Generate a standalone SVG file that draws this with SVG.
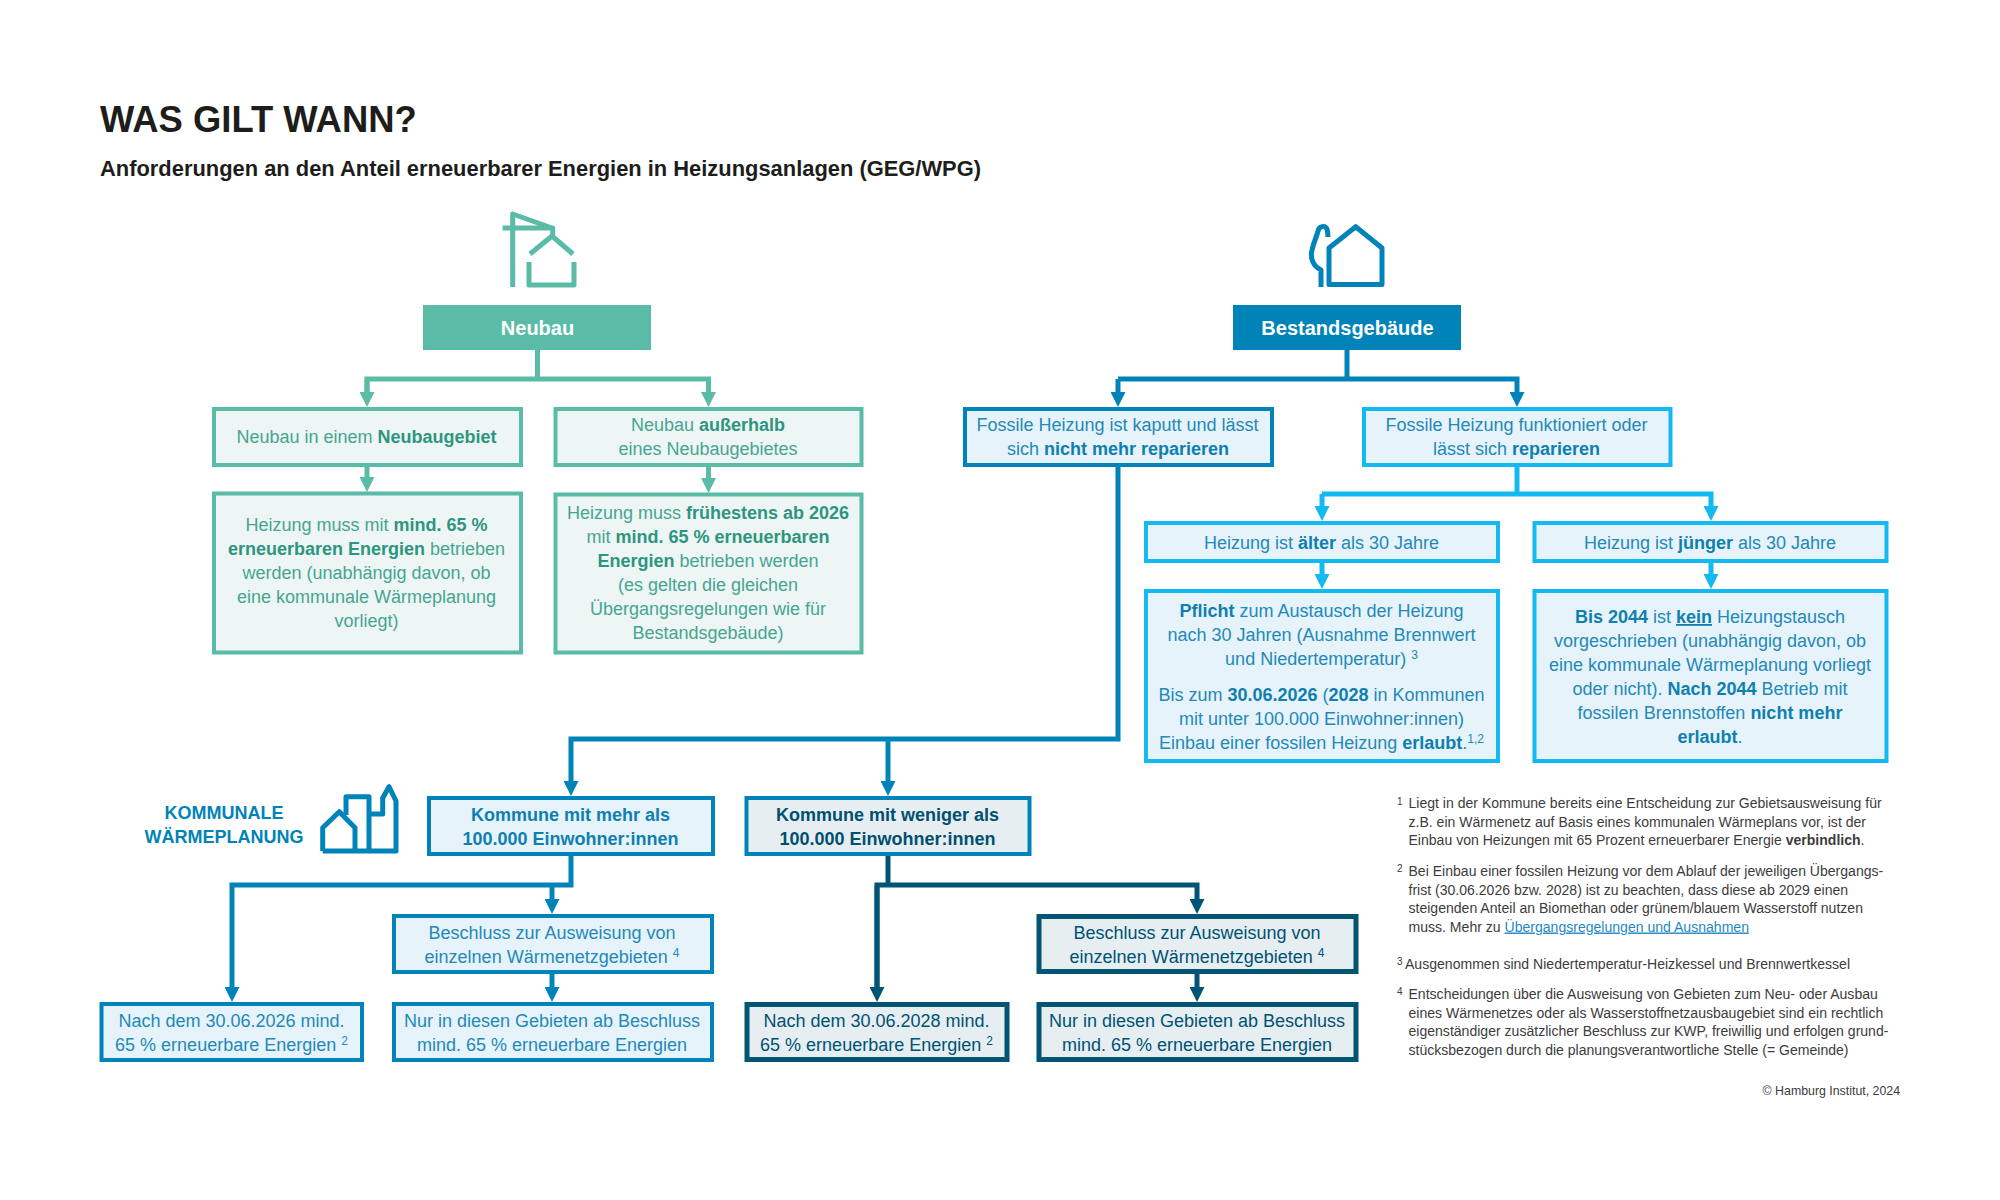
<svg xmlns="http://www.w3.org/2000/svg" width="2000" height="1200" viewBox="0 0 2000 1200">
<style>
text{font-family:"Liberation Sans",Arial,sans-serif}
.t{font-size:18px;text-anchor:middle}
.g{fill:#46a592}.gb{fill:#2e9580;font-weight:700}
.c{fill:#2389b9}.cb{fill:#0f7fb0;font-weight:700}
.d{fill:#005274}.db{fill:#004f70;font-weight:700}
.sup{font-size:12px}
.h{font-size:20px;font-weight:700;fill:#fff;text-anchor:middle}
.fn{font-size:14.05px;fill:#3c3c3c}
.fs{font-size:10px;fill:#3c3c3c}
.bg{fill:#edf6f4;stroke:#5abba7;stroke-width:4}
.bc{fill:#e6f3fa;stroke:#13b9f1;stroke-width:4}
.bb{fill:#e6f3fa;stroke:#0083b8;stroke-width:4}
.bd{fill:#e6eef2;stroke:#005474;stroke-width:5}
.bm{fill:#e6eef2;stroke:#0083b8;stroke-width:4}
.l{fill:none;stroke-width:5}
.ic{fill:none;stroke-width:5;stroke-linejoin:round}
</style>
<defs>
<marker id="ag" markerUnits="userSpaceOnUse" markerWidth="16" markerHeight="15" refX="0" refY="7.5" orient="auto"><path d="M0 0L15 7.5L0 15Z" fill="#5abba7"/></marker>
<marker id="ac" markerUnits="userSpaceOnUse" markerWidth="16" markerHeight="15" refX="0" refY="7.5" orient="auto"><path d="M0 0L15 7.5L0 15Z" fill="#13b9f1"/></marker>
<marker id="ab" markerUnits="userSpaceOnUse" markerWidth="16" markerHeight="15" refX="0" refY="7.5" orient="auto"><path d="M0 0L15 7.5L0 15Z" fill="#0083b8"/></marker>
<marker id="ad" markerUnits="userSpaceOnUse" markerWidth="16" markerHeight="15" refX="0" refY="7.5" orient="auto"><path d="M0 0L15 7.5L0 15Z" fill="#005474"/></marker>
</defs>
<rect width="2000" height="1200" fill="#fff"/>
<g id="title">
<text x="100" y="132" font-size="36.4" font-weight="700" fill="#1d1d1b">WAS GILT WANN?</text>
<text x="100" y="176" font-size="21.9" font-weight="700" fill="#1d1d1b">Anforderungen an den Anteil erneuerbarer Energien in Heizungsanlagen (GEG/WPG)</text>
</g>
<g id="connectors">
<g stroke="#5abba7" class="l">
<path d="M537.500 350V379M367 392V379H708.500V392" marker-end="url(#ag)"/>
<path d="M367 379V392" marker-end="url(#ag)"/>
<path d="M367 467V477" marker-end="url(#ag)"/>
<path d="M708.500 467V478" marker-end="url(#ag)"/>
</g>
<g stroke="#0083b8" class="l">
<path d="M1347 350V379M1118 379H1517V392" marker-end="url(#ab)"/>
<path d="M1118 379V392" marker-end="url(#ab)"/>
<path d="M1118 466V739H571V781" marker-end="url(#ab)"/>
<path d="M888 739V781" marker-end="url(#ab)"/>
<path d="M571 856V885H232V987" marker-end="url(#ab)"/>
<path d="M552 885V899" marker-end="url(#ab)"/>
<path d="M552 974V987" marker-end="url(#ab)"/>
</g>
<g stroke="#13b9f1" class="l">
<path d="M1517 466V494M1322 494H1711V506" marker-end="url(#ac)"/>
<path d="M1322 494V506" marker-end="url(#ac)"/>
<path d="M1322 563V574" marker-end="url(#ac)"/>
<path d="M1711 563V574" marker-end="url(#ac)"/>
</g>
<g stroke="#005474" class="l">
<path d="M888 856V885M877 987V885H1197V899" marker-end="url(#ad)"/>
<path d="M877 885V987" marker-end="url(#ad)"/>
<path d="M1197 974V987" marker-end="url(#ad)"/>
</g>
</g>
<g id="icon-neubau" class="ic" stroke="#5abba7">
<path d="M512.700 287V214L552 228M502.500 228H552.700V236M530 254L552 236L573 254M529 262V285H574V262"/>
</g>
<g id="icon-bestand" class="ic" stroke="#0083b8">
<path d="M1329 284.500V248L1355.700 226.700L1382 248V284.500ZM1321 287V270C1313 266 1310 258 1312 250C1314 241 1317 236 1318 231C1319 226 1325 225 1327 229Q1328 233 1328 237"/>
</g>
<g id="icon-kommunal" class="ic" stroke="#0083b8">
<path d="M322.700 851H396V801L389 786.700L382.700 798V814H369V796.700H346V815M322.700 851V827.700L339.300 811.700L355 827.700V851M369 796.700V851"/>
</g>
<g id="label-kommunal" fill="#0083b8" font-weight="700" font-size="18" text-anchor="middle">
<text x="224" y="819">KOMMUNALE</text>
<text x="224" y="842.500">WÄRMEPLANUNG</text>
</g>
<g id="neubau"><rect x="423" y="305" width="228" height="45" fill="#5abba7"/><text class="h" x="537.500" y="335">Neubau</text></g>
<g id="bestand"><rect x="1233" y="305" width="228" height="45" fill="#0083b8"/><text class="h" x="1347.500" y="335">Bestandsgebäude</text></g>
<g id="n1"><rect class="bg" x="214" y="409" width="307" height="56"/><text class="t g" x="366.500" y="443">Neubau in einem <tspan class="gb">Neubaugebiet</tspan></text></g>
<g id="n2"><rect class="bg" x="555.500" y="409" width="306" height="56"/><text class="t g" x="708" y="431">Neubau <tspan class="gb">außerhalb</tspan></text><text class="t g" x="708" y="455">eines Neubaugebietes</text></g>
<g id="n3"><rect class="bg" x="214" y="493.500" width="307" height="159"/>
<text class="t g" x="366.500" y="531">Heizung muss mit <tspan class="gb">mind. 65 %</tspan></text>
<text class="t g" x="366.500" y="555"><tspan class="gb">erneuerbaren Energien</tspan> betrieben</text>
<text class="t g" x="366.500" y="579">werden (unabhängig davon, ob</text>
<text class="t g" x="366.500" y="603">eine kommunale Wärmeplanung</text>
<text class="t g" x="366.500" y="627">vorliegt)</text></g>
<g id="n4"><rect class="bg" x="555.500" y="494.500" width="306" height="158"/>
<text class="t g" x="708" y="519">Heizung muss <tspan class="gb">frühestens ab 2026</tspan></text>
<text class="t g" x="708" y="543">mit <tspan class="gb">mind. 65 % erneuerbaren</tspan></text>
<text class="t g" x="708" y="567"><tspan class="gb">Energien</tspan> betrieben werden</text>
<text class="t g" x="708" y="591">(es gelten die gleichen</text>
<text class="t g" x="708" y="615">Übergangsregelungen wie für</text>
<text class="t g" x="708" y="639">Bestandsgebäude)</text></g>
<g id="b1"><rect class="bb" x="965" y="409" width="307" height="56"/><text class="t c" x="1117.500" y="431">Fossile Heizung ist kaputt und lässt</text><text class="t c" x="1118" y="455">sich <tspan class="cb">nicht mehr reparieren</tspan></text></g>
<g id="b2"><rect class="bc" x="1364" y="409" width="306.500" height="56"/><text class="t c" x="1516.500" y="431">Fossile Heizung funktioniert oder</text><text class="t c" x="1516.500" y="455">lässt sich <tspan class="cb">reparieren</tspan></text></g>
<g id="b3"><rect class="bc" x="1146" y="523" width="352" height="38"/><text class="t c" x="1321.500" y="549">Heizung ist <tspan class="cb">älter</tspan> als 30 Jahre</text></g>
<g id="b4"><rect class="bc" x="1534.500" y="523" width="352" height="38"/><text class="t c" x="1710" y="549">Heizung ist <tspan class="cb">jünger</tspan> als 30 Jahre</text></g>
<g id="b5"><rect class="bc" x="1146" y="591" width="352" height="170"/>
<text class="t c" x="1321.500" y="617"><tspan class="cb">Pflicht</tspan> zum Austausch der Heizung</text>
<text class="t c" x="1321.500" y="641">nach 30 Jahren (Ausnahme Brennwert</text>
<text class="t c" x="1321.500" y="665">und Niedertemperatur) <tspan class="sup" dy="-6">3</tspan></text>
<text class="t c" x="1321.500" y="701">Bis zum <tspan class="cb">30.06.2026</tspan> (<tspan class="cb">2028</tspan> in Kommunen</text>
<text class="t c" x="1321.500" y="725">mit unter 100.000 Einwohner:innen)</text>
<text class="t c" x="1321.500" y="749">Einbau einer fossilen Heizung <tspan class="cb">erlaubt</tspan>.<tspan class="sup" dy="-6">1,2</tspan></text></g>
<g id="b6"><rect class="bc" x="1534.500" y="591" width="352" height="170"/>
<text class="t c" x="1710" y="623"><tspan class="cb">Bis 2044</tspan> ist <tspan class="cb" text-decoration="underline">kein</tspan> Heizungstausch</text>
<text class="t c" x="1710" y="647">vorgeschrieben (unabhängig davon, ob</text>
<text class="t c" x="1710" y="671">eine kommunale Wärmeplanung vorliegt</text>
<text class="t c" x="1710" y="695">oder nicht). <tspan class="cb">Nach 2044</tspan> Betrieb mit</text>
<text class="t c" x="1710" y="719">fossilen Brennstoffen <tspan class="cb">nicht mehr</tspan></text>
<text class="t c" x="1710" y="743"><tspan class="cb">erlaubt</tspan>.</text></g>
<g id="k1"><rect class="bb" x="429" y="798" width="284" height="56"/><text class="t cb" x="570.500" y="821">Kommune mit mehr als</text><text class="t cb" x="570.500" y="845">100.000 Einwohner:innen</text></g>
<g id="k2"><rect class="bm" x="746.500" y="798" width="283" height="56"/><text class="t db" x="887.500" y="821">Kommune mit weniger als</text><text class="t db" x="887.500" y="845">100.000 Einwohner:innen</text></g>
<g id="k1a"><rect class="bb" x="394" y="916" width="318" height="56"/><text class="t c" x="552" y="939">Beschluss zur Ausweisung von</text><text class="t c" x="552" y="963">einzelnen Wärmenetzgebieten <tspan class="sup" dy="-6">4</tspan></text></g>
<g id="k1b"><rect class="bb" x="101.500" y="1004" width="260.500" height="56"/><text class="t c" x="231.500" y="1027">Nach dem 30.06.2026 mind.</text><text class="t c" x="231.500" y="1051">65 % erneuerbare Energien <tspan class="sup" dy="-6">2</tspan></text></g>
<g id="k1c"><rect class="bb" x="394" y="1004" width="318" height="56"/><text class="t c" x="552" y="1027">Nur in diesen Gebieten ab Beschluss</text><text class="t c" x="552" y="1051">mind. 65 % erneuerbare Energien</text></g>
<g id="k2a"><rect class="bd" x="1039" y="916.500" width="317" height="55"/><text class="t d" x="1197" y="939">Beschluss zur Ausweisung von</text><text class="t d" x="1197" y="963">einzelnen Wärmenetzgebieten <tspan class="sup" dy="-6">4</tspan></text></g>
<g id="k2b"><rect class="bd" x="747" y="1004.500" width="260" height="55"/><text class="t d" x="876.500" y="1027">Nach dem 30.06.2028 mind.</text><text class="t d" x="876.500" y="1051">65 % erneuerbare Energien <tspan class="sup" dy="-6">2</tspan></text></g>
<g id="k2c"><rect class="bd" x="1039" y="1004.500" width="317" height="55"/><text class="t d" x="1197" y="1027">Nur in diesen Gebieten ab Beschluss</text><text class="t d" x="1197" y="1051">mind. 65 % erneuerbare Energien</text></g>
<g id="footnotes">
<text class="fs" x="1397" y="805">1</text>
<text class="fn" x="1408.500" y="808">Liegt in der Kommune bereits eine Entscheidung zur Gebietsausweisung für</text>
<text class="fn" x="1408.500" y="826.500">z.B. ein Wärmenetz auf Basis eines kommunalen Wärmeplans vor, ist der</text>
<text class="fn" x="1408.500" y="845">Einbau von Heizungen mit 65 Prozent erneuerbarer Energie <tspan font-weight="700">verbindlich</tspan>.</text>
<text class="fs" x="1397" y="872">2</text>
<text class="fn" x="1408.500" y="876">Bei Einbau einer fossilen Heizung vor dem Ablauf der jeweiligen Übergangs-</text>
<text class="fn" x="1408.500" y="895">frist (30.06.2026 bzw. 2028) ist zu beachten, dass diese ab 2029 einen</text>
<text class="fn" x="1408.500" y="913">steigenden Anteil an Biomethan oder grünem/blauem Wasserstoff nutzen</text>
<text class="fn" x="1408.500" y="931.500">muss. Mehr zu <tspan fill="#1f87c4" text-decoration="underline">Übergangsregelungen und Ausnahmen</tspan></text>
<text class="fs" x="1397" y="965">3</text>
<text class="fn" x="1405" y="969">Ausgenommen sind Niedertemperatur-Heizkessel und Brennwertkessel</text>
<text class="fs" x="1397" y="995">4</text>
<text class="fn" x="1408.500" y="999">Entscheidungen über die Ausweisung von Gebieten zum Neu- oder Ausbau</text>
<text class="fn" x="1408.500" y="1017.500">eines Wärmenetzes oder als Wasserstoffnetzausbaugebiet sind ein rechtlich</text>
<text class="fn" x="1408.500" y="1036">eigenständiger zusätzlicher Beschluss zur KWP, freiwillig und erfolgen grund-</text>
<text class="fn" x="1408.500" y="1054.500">stücksbezogen durch die planungsverantwortliche Stelle (= Gemeinde)</text>
<text x="1900" y="1095" font-size="12.350" fill="#3c3c3c" text-anchor="end">© Hamburg Institut, 2024</text>
</g>
</svg>
